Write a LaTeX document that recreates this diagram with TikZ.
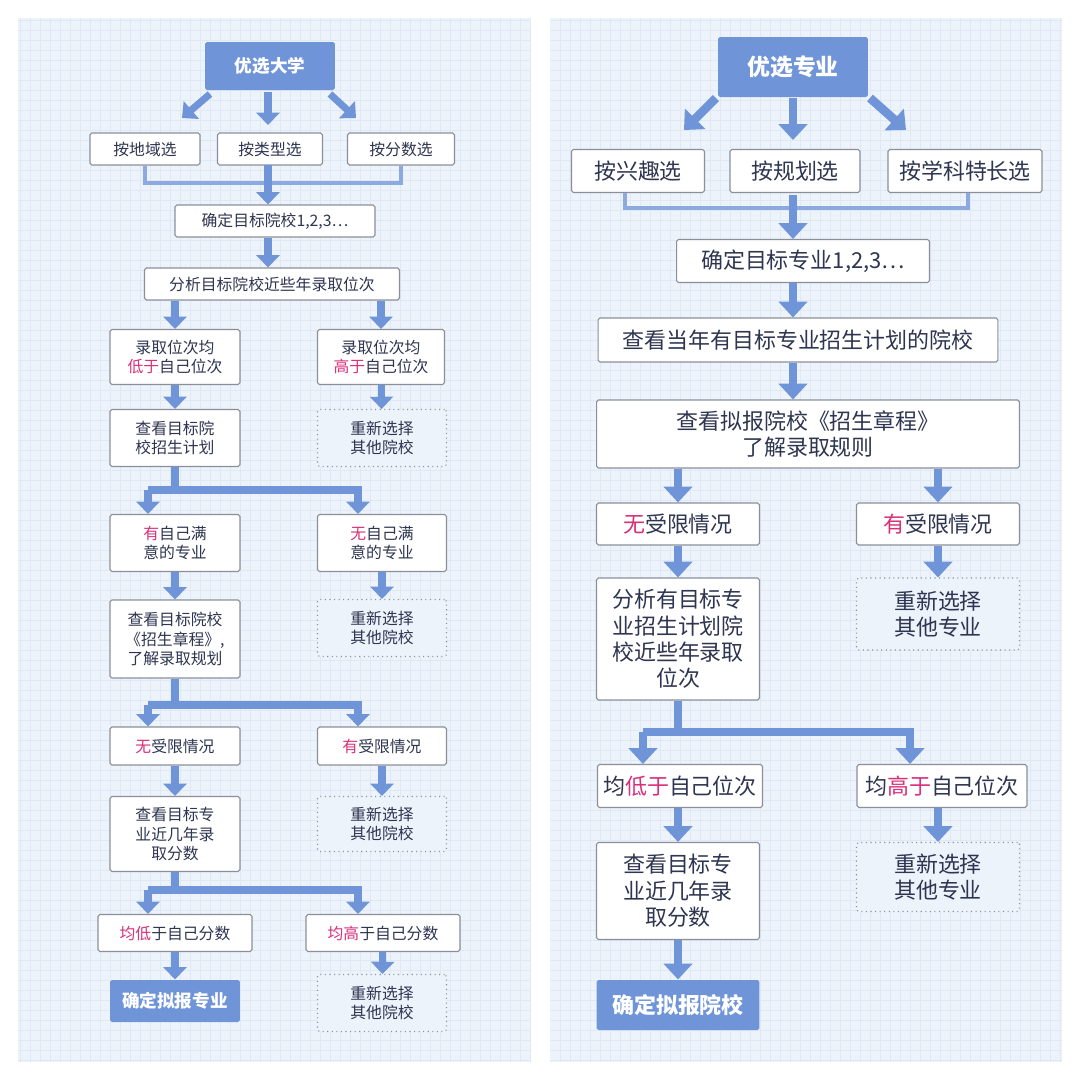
\documentclass[tikz,border=0pt]{standalone}
\usepackage{fontspec}
\setmainfont{Noto Sans CJK SC}
\usetikzlibrary{arrows.meta, positioning}
\definecolor{panel}{HTML}{EDF3FB}
\definecolor{gridc}{HTML}{E0E8F5}
\definecolor{fat}{HTML}{6F95D8}
\definecolor{ink}{HTML}{2E3550}
\definecolor{rim}{HTML}{8A8F9A}
\definecolor{hot}{HTML}{D8307A}
\newcommand{\hl}[1]{\textcolor{hot}{#1}}
\begin{document}
\begin{tikzpicture}[x=0.02cm, y=-0.02cm,
    box/.style={draw=rim, fill=white, rounded corners=1pt, line width=0.6pt, text=ink, align=center, inner sep=1pt, font=\fontsize{9}{11}\selectfont},
    bigbox/.style={box, font=\fontsize{12.5}{15}\selectfont},
    head/.style={box, draw=none, fill=fat, text=white, font=\fontsize{10}{12}\selectfont\bfseries},
    redo/.style={box, draw=rim, dotted, fill=panel},
    fat/.style={draw=fat, line width=4pt, -{Triangle[length=7pt, width=13pt]}},
    bigfat/.style={draw=fat, line width=5pt, -{Triangle[length=9pt, width=16pt]}},
    bar/.style={draw=fat, line width=4pt},
    bigbar/.style={draw=fat, line width=5pt}]

    \useasboundingbox (0,0) rectangle (1080,1080);
    \fill[white] (0,0) rectangle (1080,1080);
    \fill[panel] (18,18) rectangle (530,1062);
    \fill[panel] (550,18) rectangle (1062,1062);
    \draw[gridc, line width=0.3pt, step=0.2cm] (18,18) grid (530,1062);
    \draw[gridc, line width=0.3pt, step=0.2cm] (550,18) grid (1062,1062);

    % left panel: choose a university first
    \node[head, minimum width=2.6cm, minimum height=0.96cm] (uni) at (270,66) {优选大学};
    \node[box, minimum width=2.2cm, minimum height=0.64cm] (area) at (145,149) {按地域选};
    \node[box, minimum width=2.1cm, minimum height=0.64cm] (kind) at (270,149) {按类型选};
    \node[box, minimum width=2.14cm, minimum height=0.64cm] (score) at (401,149) {按分数选};
    \node[box, minimum width=4cm, minimum height=0.64cm] (target) at (275,221) {确定目标院校1,2,3…};
    \node[box, minimum width=5.1cm, minimum height=0.64cm] (rank) at (272,284) {分析目标院校近些年录取位次};
    \node[box, minimum width=2.6cm, minimum height=1.1cm] (low) at (175,357) {录取位次均\\\hl{低于}自己位次};
    \node[box, minimum width=2.54cm, minimum height=1.1cm] (high) at (381,357) {录取位次均\\\hl{高于}自己位次};
    \node[box, minimum width=2.6cm, minimum height=1.14cm] (plan) at (175,438) {查看目标院\\校招生计划};
    \node[redo, minimum width=2.58cm, minimum height=1.14cm] (redoA) at (382,438) {重新选择\\其他院校};
    \node[box, minimum width=2.6cm, minimum height=1.14cm] (like) at (175,543) {\hl{有}自己满\\意的专业};
    \node[box, minimum width=2.58cm, minimum height=1.14cm] (nolike) at (382,543) {\hl{无}自己满\\意的专业};
    \node[box, minimum width=2.6cm, minimum height=1.56cm] (rules) at (175,639) {查看目标院校\\《招生章程》,\\了解录取规划};
    \node[redo, minimum width=2.58cm, minimum height=1.14cm] (redoB) at (382,628) {重新选择\\其他院校};
    \node[box, minimum width=2.6cm, minimum height=0.76cm] (free) at (175,746) {\hl{无}受限情况};
    \node[box, minimum width=2.58cm, minimum height=0.76cm] (bound) at (382,746) {\hl{有}受限情况};
    \node[box, minimum width=2.6cm, minimum height=1.5cm] (marks) at (175,834) {查看目标专\\业近几年录\\取分数};
    \node[redo, minimum width=2.58cm, minimum height=1.1cm] (redoC) at (382,824) {重新选择\\其他院校};
    \node[box, minimum width=3.08cm, minimum height=0.74cm] (below) at (175,933) {\hl{均低}于自己分数};
    \node[box, minimum width=3.08cm, minimum height=0.74cm] (above) at (383,933) {\hl{均高}于自己分数};
    \node[head, minimum width=2.6cm, minimum height=0.84cm] (major) at (175,1001) {确定拟报专业};
    \node[redo, minimum width=2.58cm, minimum height=1.14cm] (redoD) at (382,1003) {重新选择\\其他院校};

    \draw[fat] (210,94) -- (182,118);
    \draw[fat] (268,92) -- (268,125);
    \draw[fat] (330,94) -- (356,118);
    \draw[fat!80, line width=2pt] (area.south) |- (268,183) -| (score.south);
    \draw[fat] (268,165) -- (target.north -| 268,0);
    \draw[fat] (target.south -| 268,0) -- (rank.north -| 268,0);
    \draw[fat] (rank.south -| low) -- (low);
    \draw[fat] (rank.south -| high) -- (high);
    \draw[fat] (low) -- (plan);
    \draw[fat] (high) -- (redoA);
    \coordinate (s1) at (175,490);
    \draw[bar] (plan.south) -- (s1);
    \draw[fat] (148,490) -- (like.north -| 148,0);
    \draw[fat] (148,490) -- (358,490) -- (nolike.north -| 358,0);
    \draw[fat] (like) -- (rules);
    \draw[fat] (nolike) -- (redoB);
    \coordinate (s2) at (175,705);
    \draw[bar] (rules.south) -- (s2);
    \draw[fat] (148,705) -- (free.north -| 148,0);
    \draw[fat] (148,705) -- (358,705) -- (bound.north -| 358,0);
    \draw[fat] (free) -- (marks);
    \draw[fat] (bound) -- (redoC);
    \coordinate (s3) at (175,890);
    \draw[bar] (marks.south) -- (s3);
    \draw[fat] (148,890) -- (below.north -| 148,0);
    \draw[fat] (148,890) -- (358,890) -- (above.north -| 358,0);
    \draw[fat] (below) -- (major);
    \draw[fat] (above) -- (redoD);

    % right panel: choose a major first
    \node[head, minimum width=3cm, minimum height=1.2cm, font=\fontsize{13}{15}\selectfont\bfseries] (pick) at (793,67) {优选专业};
    \node[bigbox, minimum width=2.66cm, minimum height=0.86cm] (fun) at (638,171) {按兴趣选};
    \node[bigbox, minimum width=2.6cm, minimum height=0.86cm] (path) at (795,171) {按规划选};
    \node[bigbox, minimum width=3.08cm, minimum height=0.86cm] (gift) at (965,171) {按学科特长选};
    \node[bigbox, minimum width=5.06cm, minimum height=0.86cm] (aim) at (803,261) {确定目标专业1,2,3…};
    \node[bigbox, minimum width=8cm, minimum height=0.88cm] (who) at (798,340) {查看当年有目标专业招生计划的院校};
    \node[bigbox, minimum width=8.46cm, minimum height=1.36cm] (code) at (808,434) {查看拟报院校《招生章程》\\了解录取规则};
    \node[bigbox, minimum width=3.26cm, minimum height=0.84cm] (open) at (678,524) {\hl{无}受限情况};
    \node[bigbox, minimum width=3.26cm, minimum height=0.84cm] (shut) at (938,524) {\hl{有}受限情况};
    \node[bigbox, minimum width=3.26cm, minimum height=2.44cm] (study) at (678,639) {分析有目标专\\业招生计划院\\校近些年录取\\位次};
    \node[redo, bigbox, dotted, fill=panel, minimum width=3.26cm, minimum height=1.44cm] (redoE) at (938,614) {重新选择\\其他专业};
    \node[bigbox, minimum width=3.3cm, minimum height=0.86cm] (under) at (680,786) {均\hl{低于}自己位次};
    \node[bigbox, minimum width=3.4cm, minimum height=0.86cm] (over) at (942,786) {均\hl{高于}自己位次};
    \node[bigbox, minimum width=3.26cm, minimum height=1.94cm] (past) at (678,891) {查看目标专\\业近几年录\\取分数};
    \node[redo, bigbox, dotted, fill=panel, minimum width=3.26cm, minimum height=1.38cm] (redoF) at (938,877) {重新选择\\其他专业};
    \node[head, minimum width=3.26cm, minimum height=1cm, font=\fontsize{12.5}{15}\selectfont\bfseries] (school) at (678,1005) {确定拟报院校};

    \draw[bigfat] (716,98) -- (684,130);
    \draw[bigfat] (793,98) -- (793,140);
    \draw[bigfat] (870,98) -- (906,130);
    \draw[fat!80, line width=2.4pt] (625,193) |- (793,208) -| (968,193);
    \draw[bigfat] (793,195) -- (aim.north -| 793,0);
    \draw[bigfat] (aim.south -| 793,0) -- (who.north -| 793,0);
    \draw[bigfat] (who.south -| 793,0) -- (code.north -| 793,0);
    \draw[bigfat] (code.south -| open) -- (open);
    \draw[bigfat] (code.south -| shut) -- (shut);
    \draw[bigfat] (open) -- (study);
    \draw[bigfat] (shut) -- (redoE);
    \coordinate (s4) at (678,732);
    \draw[bigbar] (study.south) -- (s4);
    \draw[bigfat] (643,732) -- (under.north -| 643,0);
    \draw[bigfat] (643,732) -- (910,732) -- (over.north -| 910,0);
    \draw[bigfat] (under.south -| past) -- (past);
    \draw[bigfat] (over.south -| redoF) -- (redoF);
    \draw[bigfat] (past) -- (school);
\end{tikzpicture}
\end{document}
